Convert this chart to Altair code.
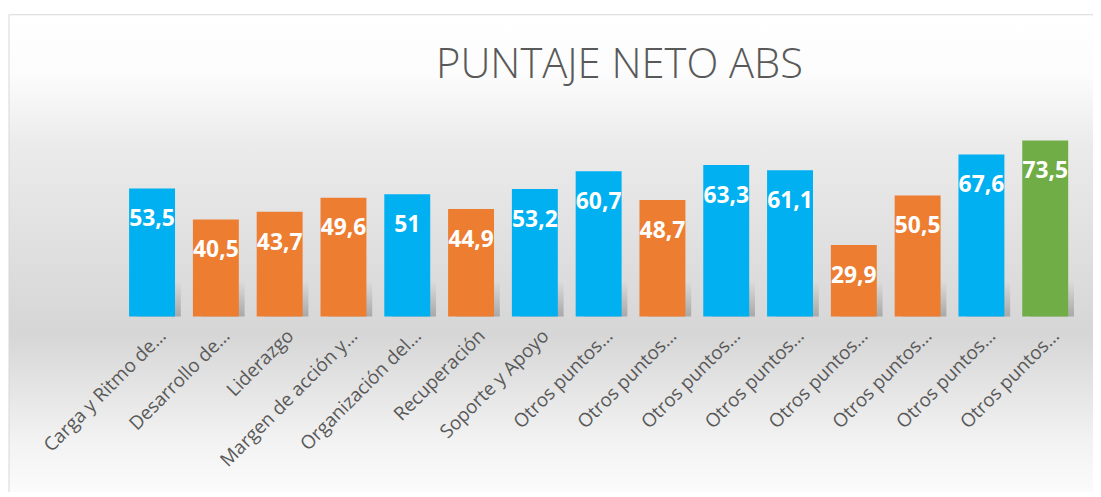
import json
import altair as alt
import pandas as pd

# ---- data ----
title_text = "PUNTAJE NETO ABS"
keys = [
    "carga", "desarrollo", "liderazgo", "margen", "organizacion", "recuperacion",
    "soporte", "otros1", "otros2", "otros3", "otros4", "otros5", "otros6", "otros7", "otros8",
]
labels = [
    "Carga y Ritmo de…", "Desarrollo de…", "Liderazgo", "Margen de acción y…",
    "Organización del…", "Recuperación", "Soporte y Apoyo",
    "Otros puntos…", "Otros puntos…", "Otros puntos…", "Otros puntos…",
    "Otros puntos…", "Otros puntos…", "Otros puntos…", "Otros puntos…",
]
values = [53.5, 40.5, 43.7, 49.6, 51, 44.9, 53.2, 60.7, 48.7, 63.3, 61.1, 29.9, 50.5, 67.6, 73.5]
groups = ["azul", "naranja", "naranja", "naranja", "azul", "naranja", "azul", "azul",
          "naranja", "azul", "azul", "naranja", "naranja", "azul", "verde"]

group_domain = ["azul", "naranja", "verde"]
group_colors = ["#00B0F0", "#ED7D31", "#70AD47"]

df = pd.DataFrame({"key": keys, "value": values, "group": groups})

W, H = 964, 193
PAD = {"left": 113, "top": 116, "right": 16, "bottom": 175}

label_expr = f"{json.dumps(labels, ensure_ascii=False)}[indexof({json.dumps(keys)}, datum.value)]"

x_enc = alt.X(
    "key:N", sort=keys,
    scale=alt.Scale(paddingInner=0.28, paddingOuter=0.14),
    axis=alt.Axis(
        title=None, labelAngle=-45, labelAlign="right", labelBaseline="middle",
        labelExpr=label_expr, ticks=False, domain=False,
        labelFont="Open Sans", labelFontSize=19, labelColor="#595959",
        labelPadding=16, labelOffset=11, labelLimit=300,
    ),
)
y_enc = alt.Y("value:Q", scale=alt.Scale(domain=[0, 80]), axis=None)

one = pd.DataFrame({"t": [title_text]})

# background panel with Excel-like gradient
bg = alt.Chart(one).mark_rect(
    color={
        "gradient": "linear", "x1": 0, "y1": 0, "x2": 0, "y2": 1,
        "stops": [
            {"offset": 0.0, "color": "#ffffff"},
            {"offset": 0.12, "color": "#fcfcfc"},
            {"offset": 0.26, "color": "#ebebeb"},
            {"offset": 0.637, "color": "#d6d6d6"},
            {"offset": 0.85, "color": "#f2f2f2"},
            {"offset": 1.0, "color": "#ffffff"},
        ],
    },
    stroke="#d9d9d9", strokeWidth=1,
).encode(
    x=alt.value(-112), x2=alt.value(W + 60),
    y=alt.value(-111), y2=alt.value(H + 200),
)

title = alt.Chart(one).mark_text(
    font="Open Sans", fontSize=42, fontWeight=300, color="#595959",
    align="center", baseline="alphabetic",
).encode(x=alt.value(W / 2 + 21), y=alt.value(-47), text="t:N")

base = alt.Chart(df)

shadow = base.mark_rect(
    color={
        "gradient": "linear", "x1": 0, "y1": 0, "x2": 0, "y2": 1,
        "stops": [
            {"offset": 0.0, "color": "rgba(120,120,120,0)"},
            {"offset": 1.0, "color": "rgba(110,110,110,0.45)"},
        ],
    },
    xOffset=7, width={"band": 0.95},
).encode(x=x_enc, y=alt.value(H - 36), y2=alt.value(H))

bars = base.mark_bar().encode(
    x=x_enc, y=y_enc,
    color=alt.Color("group:N", scale=alt.Scale(domain=group_domain, range=group_colors), legend=None),
)

text = base.transform_calculate(
    lbl="replace(toString(datum.value), '.', ',')"
).mark_text(
    dy=31, baseline="middle", align="center", color="white",
    font="Open Sans", fontWeight="bold", fontSize=23,
).encode(x=x_enc, y=y_enc, text="lbl:N")

chart = alt.layer(bg, title, shadow, bars, text).properties(
    width=W, height=H,
    autosize=alt.AutoSizeParams(type="none"),
    padding=PAD,
).configure_view(stroke=None)

chart.save("out.html", embed_options={"renderer": "svg", "actions": False})
